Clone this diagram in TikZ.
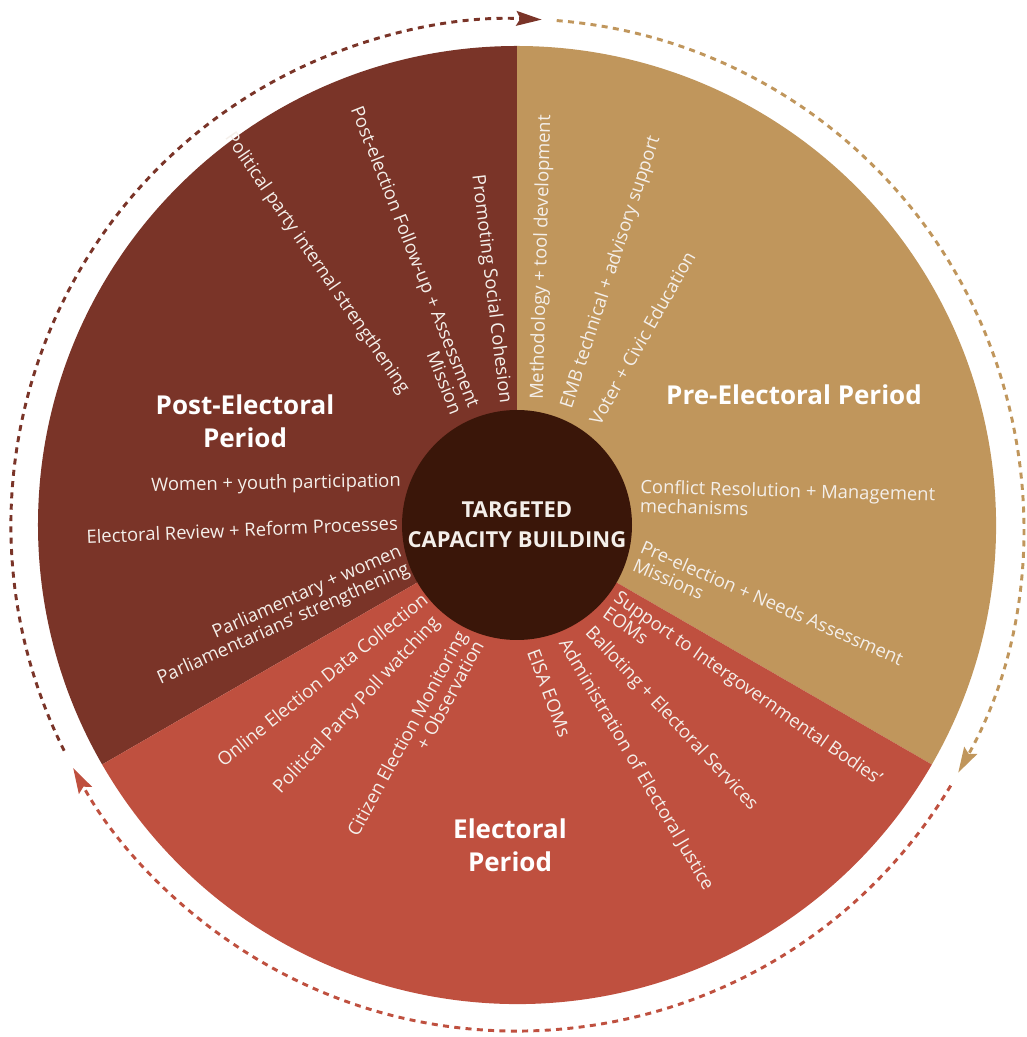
\documentclass[tikz,border=0pt]{standalone}
\usepackage{fontspec}
\setmainfont{Open Sans}
\usetikzlibrary{arrows.meta}
\definecolor{postBrown}{HTML}{7A3428}
\definecolor{preTan}{HTML}{C0965C}
\definecolor{elecRed}{HTML}{BF503F}
\definecolor{hubDark}{HTML}{3A1609}
\definecolor{labelWhite}{HTML}{F4EFEA}
\tikzset{
  itemIn/.style={text=labelWhite, font=\fontsize{13.8}{14.5}\selectfont,
                 anchor=east, align=right, inner sep=0pt},
  itemOut/.style={text=labelWhite, font=\fontsize{13.8}{14.5}\selectfont,
                  anchor=west, align=left, inner sep=0pt},
  periodTitle/.style={text=white, font=\bfseries\fontsize{19.5}{25}\selectfont,
                      align=center, inner sep=0pt},
  cycleArc/.style={line width=2.2pt, dash pattern=on 4.5pt off 4pt,
                   -{Stealth[length=19pt, width=11pt, inset=3pt]}},
}

\begin{document}
\begin{tikzpicture}[x=0.75pt, y=0.75pt]
  \useasboundingbox (-517,-512) rectangle (509,525);
  % Sectores
  \fill[postBrown] (0,0) -- (90:479) arc[start angle=90, end angle=210, radius=479] -- cycle;
  \fill[preTan] (0,0) -- (-30:479) arc[start angle=-30, end angle=90, radius=479] -- cycle;
  \fill[elecRed] (0,0) -- (210:479) arc[start angle=210, end angle=330, radius=479] -- cycle;
  % Ciclo punteado
  \draw[cycleArc, postBrown] (206.5:506) arc[start angle=206.5, end angle=87.2, radius=506];
  \draw[cycleArc, preTan] (85.5:506) arc[start angle=85.5, end angle=-29.3, radius=506];
  \draw[cycleArc, elecRed] (-31:506) arc[start angle=-31, end angle=-151.3, radius=506];
  % Centro
  \node[circle, fill=hubDark, minimum size=172.5pt, inner sep=0pt, align=center,
        text=labelWhite, font=\bfseries\fontsize{16.5}{22.5}\selectfont] (hub) at (0,0)
        {TARGETED\\CAPACITY BUILDING};
  % Titulos
  \node[periodTitle] (postT) at (-272,104) {Post-Electoral\\Period};
  \node[periodTitle] (preT) at (277,130) {Pre-Electoral Period};
  \node[periodTitle] (elecT) at (-7,-320) {Electoral\\Period};
  % Post-electoral
  \node[itemIn, rotate=-83] (cohesion) at (-12,122) {Promoting Social Cohesion};
  \node[itemIn, rotate=-68.5] (followup) at (-51,115) {Post-election Follow-up + Assessment\\Mission};
  \node[itemIn, rotate=-55.5] (party) at (-112,133) {Political party internal strengthening};
  \node[itemIn, rotate=1] (youth) at (-116,43) {Women + youth participation};
  \node[itemIn, rotate=2.5] (reform) at (-119,2) {Electoral Review + Reform Processes};
  \node[itemIn, rotate=24] (parl) at (-112,-35) {Parliamentary + women\\Parliamentarians’ strengthening};
  % Electoral
  \node[itemIn, rotate=38.7] (online) at (-92,-72) {Online Election Data Collection};
  \node[itemIn, rotate=47] (poll) at (-80,-95) {Political Party Poll watching};
  \node[itemIn, rotate=61.5] (citizen) at (-47,-112) {Citizen Election Monitoring\\+ Observation};
  \node[itemOut, rotate=-69.5] (eisa) at (16,-125) {EISA EOMs};
  \node[itemOut, rotate=-59.5] (justice) at (46,-116) {Administration of Electoral Justice};
  \node[itemOut, rotate=-47] (ballot) at (71,-105) {Balloting + Electoral Services};
  \node[itemOut, rotate=-35] (igb) at (94,-78) {Support to Intergovernmental Bodies’\\EOMs};
  % Pre-electoral
  \node[itemOut, rotate=-23.5] (needs) at (121,-30) {Pre-election + Needs Assessment\\Missions};
  \node[itemOut, rotate=-1.5] (conflict) at (123,29) {Conflict Resolution + Management\\mechanisms};
  \node[itemOut, rotate=60.5] (voter) at (77,102) {Voter + Civic Education};
  \node[itemOut, rotate=72] (emb) at (50,117) {EMB technical + advisory support};
  \node[itemOut, rotate=88.5] (method) at (21,125) {Methodology + tool development};
\end{tikzpicture}
\end{document}
